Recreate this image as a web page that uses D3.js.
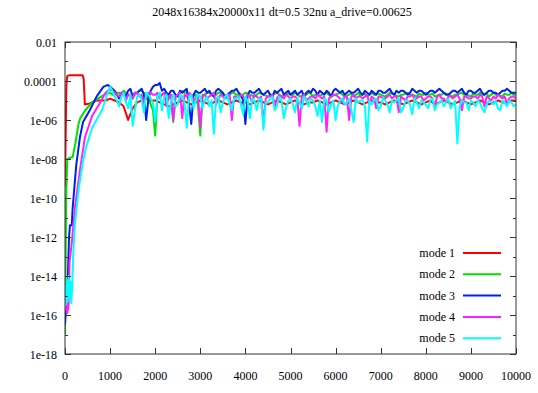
<!DOCTYPE html>
<html>
<head>
<meta charset="utf-8">
<script src="https://cdn.jsdelivr.net/npm/d3@7"></script>
<style>
body { margin: 0; background: #fff; }
svg text { font-family: "Liberation Serif", "DejaVu Serif", serif; fill: #000; }
</style>
</head>
<body>
<div id="chart"></div>
<script>
// log10 of each mode's amplitude

// start-up phase, [step, log10 value]
const mode1Early = [[0,-9.4],[30,-4.2],[50,-3.75],[100,-3.7],[390,-3.7],[415,-3.9],[440,-5.2],[550,-5.15],[700,-5.0],[900,-5.0]];
const mode2Early = [[0,-17],[25,-10],[50,-8.0],[170,-7.9],[230,-7.2],[300,-6.2],[340,-5.9],[450,-5.5],[600,-5.1],[800,-4.8],[950,-4.6]];
const mode3Early = [[0,-16.5],[60,-14.3],[90,-12],[110,-11.4],[150,-11.4],[170,-10.5],[250,-8.3],[330,-6.9],[400,-6.1],[550,-5.5],[700,-4.8],[850,-4.3],[950,-4.2]];
const mode4Early = [[0,-15.8],[30,-15.3],[50,-15.9],[80,-15.5],[100,-13.3],[150,-12.3],[220,-10.5],[330,-8.6],[440,-6.9],[600,-5.8],[780,-5.1],[900,-4.6]];
const mode5Early = [[0,-14.5],[20,-15.5],[40,-14.2],[60,-15.3],[80,-14.0],[100,-15.1],[120,-14.3],[140,-15.4],[160,-14.5],[180,-13],[220,-11.3],[300,-9.6],[400,-8.1],[480,-7.3],[600,-6.4],[820,-5.5],[950,-4.6]];

// saturated phase, one value every 100 steps from 1000 to 10000
const mode1Late = [
  -4.9,-5.0,-5.1,-5.3,-6.0,-5.4,-5.1,-5.0,-4.9,-5.0,
  -5.0,-5.1,-5.2,-5.3,-5.2,-5.1,-5.0,-5.1,-5.2,-5.1,
  -5.0,-5.1,-5.2,-5.1,-5.0,-5.1,-5.2,-5.1,-5.0,-5.1,
  -5.1,-5.2,-5.1,-5.0,-5.1,-5.2,-5.1,-5.0,-5.1,-5.2,
  -5.1,-5.0,-5.1,-5.2,-5.1,-5.1,-5.0,-5.1,-5.2,-5.1,
  -5.0,-5.1,-5.2,-5.1,-5.0,-5.1,-5.2,-5.1,-5.0,-5.1,
  -5.1,-5.2,-5.1,-5.0,-5.1,-5.2,-5.1,-5.0,-5.1,-5.2,
  -5.1,-5.0,-5.2,-5.1,-5.0,-5.1,-5.2,-5.1,-5.0,-5.1,
  -5.2,-5.1,-5.0,-5.1,-5.2,-5.1,-5.0,-5.1,-5.1,-5.0,
  -5.0];
const mode2Late = [
  -4.6,-4.7,-4.6,-4.5,-4.7,-4.9,-4.6,-4.5,-4.7,-5.2,
  -6.8,-4.8,-4.6,-4.7,-6.1,-4.7,-4.5,-4.6,-4.8,-4.7,
  -6.8,-4.7,-4.6,-4.8,-4.6,-4.7,-4.9,-4.6,-4.7,-4.8,
  -4.6,-4.7,-4.8,-4.6,-4.7,-4.8,-4.7,-4.6,-4.8,-4.7,
  -4.7,-4.6,-4.8,-4.7,-4.6,-4.8,-4.7,-4.7,-4.6,-4.8,
  -4.7,-4.6,-4.8,-4.7,-4.8,-4.6,-4.7,-4.8,-4.6,-4.7,
  -4.7,-4.8,-4.6,-4.7,-4.8,-4.7,-4.6,-4.7,-4.8,-4.7,
  -4.6,-4.7,-4.8,-4.7,-4.6,-4.7,-4.8,-4.7,-4.6,-4.7,
  -4.8,-4.7,-4.6,-4.7,-4.8,-4.6,-4.7,-4.8,-4.7,-4.6,
  -4.7];
const mode3Late = [
  -4.3,-4.5,-4.9,-4.6,-4.5,-4.8,-4.6,-4.4,-6.0,-4.5,
  -4.2,-4.1,-4.4,-4.7,-4.5,-4.8,-4.6,-4.4,-6.2,-4.5,
  -4.6,-4.4,-4.5,-4.8,-4.4,-4.6,-4.7,-4.5,-4.4,-4.7,
  -6.2,-4.5,-4.6,-4.4,-4.7,-4.5,-4.8,-4.6,-4.4,-4.6,
  -4.7,-4.5,-4.6,-4.8,-4.5,-4.4,-4.7,-4.6,-4.5,-4.8,
  -4.4,-4.6,-4.7,-4.5,-4.6,-4.4,-4.7,-4.6,-4.5,-4.7,
  -4.5,-4.6,-4.4,-4.7,-4.6,-4.5,-4.7,-4.4,-4.6,-4.5,
  -4.7,-4.5,-4.6,-4.4,-4.6,-4.7,-4.5,-4.6,-4.4,-4.7,
  -4.5,-4.6,-4.4,-4.7,-4.5,-4.6,-4.7,-4.5,-4.4,-4.6,
  -4.6];
const mode4Late = [
  -4.4,-4.6,-4.8,-4.6,-4.7,-4.9,-4.6,-4.7,-4.8,-4.6,
  -4.7,-4.9,-4.6,-4.8,-6.0,-4.7,-5.9,-4.8,-4.7,-4.9,
  -6.4,-4.7,-4.8,-4.6,-4.9,-4.8,-4.7,-6.0,-4.8,-4.7,
  -4.9,-4.8,-4.7,-4.9,-6.2,-4.8,-4.7,-4.9,-4.8,-4.7,
  -4.9,-4.8,-6.3,-4.7,-4.9,-4.8,-4.7,-4.9,-6.6,-4.8,
  -4.7,-4.9,-4.8,-6.0,-4.7,-4.8,-4.9,-4.7,-4.8,-5.4,
  -4.8,-4.9,-4.7,-4.8,-5.6,-4.9,-4.8,-4.7,-4.9,-4.8,
  -4.9,-4.8,-5.3,-4.7,-4.9,-4.8,-4.9,-4.7,-5.5,-4.8,
  -4.9,-4.8,-4.7,-5.3,-4.9,-4.8,-4.7,-4.9,-5.2,-4.8,
  -4.9];
const mode5Late = [
  -4.3,-4.8,-5.3,-4.6,-5.4,-6.3,-4.8,-5.0,-4.6,-4.9,
  -6.1,-4.6,-4.8,-5.9,-4.7,-5.2,-4.8,-6.4,-4.7,-5.0,
  -4.8,-5.0,-5.3,-6.7,-4.8,-5.1,-4.7,-5.5,-4.9,-5.2,
  -4.8,-5.9,-5.0,-4.9,-6.5,-5.1,-4.8,-5.3,-5.0,-5.4,
  -4.9,-5.6,-5.1,-4.8,-5.3,-5.0,-5.8,-6.1,-5.0,-5.2,
  -6.0,-5.0,-5.2,-4.9,-6.1,-5.1,-5.0,-7.1,-5.2,-4.9,
  -5.3,-5.0,-5.6,-5.1,-4.9,-5.4,-5.0,-5.7,-5.1,-5.0,
  -5.2,-5.0,-5.5,-5.1,-5.3,-4.9,-5.2,-7.2,-5.0,-5.1,
  -5.0,-5.3,-5.1,-5.6,-5.0,-5.2,-5.4,-5.0,-5.3,-5.1,
  -5.2];

// in-between values, at 1050, 1150, ... 9950
const mode2Mid = [
  -4.7,-4.6,-4.7,-4.6,-4.8,-4.7,-4.5,-4.6,-4.9,-5.5,
  -4.7,-4.7,-4.7,-5.0,-4.8,-4.6,-4.6,-4.7,-4.7,-5.3,
  -4.7,-4.6,-4.7,-4.7,-4.6,-4.8,-4.7,-4.6,-4.7,-4.7,
  -4.65,-4.75,-4.7,-4.65,-4.75,-4.7,-4.65,-4.7,-4.75,-4.65,
  -4.7,-4.65,-4.75,-4.7,-4.65,-4.7,-4.75,-4.65,-4.7,-4.75,
  -4.65,-4.7,-4.75,-4.65,-4.7,-4.75,-4.65,-4.7,-4.7,-4.65,
  -4.75,-4.7,-4.65,-4.75,-4.7,-4.65,-4.7,-4.75,-4.65,-4.7,
  -4.7,-4.65,-4.75,-4.7,-4.65,-4.75,-4.7,-4.65,-4.7,-4.75,
  -4.65,-4.7,-4.75,-4.65,-4.7,-4.7,-4.75,-4.65,-4.7,-4.7];
const mode3Mid = [
  -4.4,-4.7,-4.6,-4.8,-4.4,-4.6,-4.5,-4.7,-4.9,-4.3,
  -4.2,-4.5,-4.6,-4.5,-4.7,-4.5,-4.5,-5.2,-4.7,-4.6,
  -4.5,-4.6,-4.7,-4.5,-4.5,-4.8,-4.6,-4.5,-4.6,-5.0,
  -4.7,-4.6,-4.5,-4.6,-4.6,-4.7,-4.5,-4.5,-4.7,-4.5,
  -4.6,-4.7,-4.5,-4.6,-4.6,-4.5,-4.5,-4.7,-4.6,-4.5,
  -4.5,-4.5,-4.6,-4.6,-4.5,-4.6,-4.5,-4.7,-4.6,-4.5,
  -4.6,-4.5,-4.6,-4.5,-4.5,-4.6,-4.6,-4.5,-4.5,-4.6,
  -4.6,-4.5,-4.5,-4.5,-4.7,-4.6,-4.5,-4.5,-4.6,-4.5,
  -4.6,-4.5,-4.6,-4.6,-4.5,-4.6,-4.6,-4.5,-4.5,-4.6];
const mode4Mid = [
  -4.5,-4.7,-4.6,-5.0,-4.7,-4.6,-4.8,-5.2,-4.6,-4.7,
  -4.6,-4.7,-5.3,-4.7,-4.8,-4.6,-4.7,-4.6,-5.0,-4.8,
  -4.8,-4.9,-4.7,-5.2,-4.7,-4.9,-4.7,-4.8,-4.9,-4.8,
  -4.7,-5.1,-4.8,-4.8,-4.9,-4.8,-5.3,-4.7,-4.9,-4.8,
  -4.8,-4.9,-4.8,-5.0,-4.8,-4.9,-4.8,-4.8,-4.9,-4.7,
  -4.8,-5.1,-4.8,-4.8,-4.9,-4.8,-4.8,-5.2,-4.9,-4.8,
  -4.9,-4.8,-4.9,-4.8,-4.8,-5.0,-4.8,-4.9,-4.8,-5.0,
  -4.8,-4.9,-4.8,-4.9,-5.1,-4.8,-4.8,-4.9,-4.8,-4.9,
  -4.8,-4.9,-4.8,-4.8,-5.0,-4.9,-4.8,-4.8,-4.9,-4.8];
const mode5Mid = [
  -4.5,-5.0,-4.8,-5.1,-4.7,-5.5,-4.7,-5.6,-4.7,-5.1,
  -4.8,-5.5,-4.7,-5.0,-5.3,-4.7,-5.1,-4.8,-5.4,-4.7,
  -5.4,-4.8,-5.0,-4.9,-5.6,-4.8,-5.2,-4.9,-4.8,-5.7,
  -5.0,-4.9,-5.5,-4.9,-5.1,-4.9,-5.5,-4.8,-5.9,-5.0,
  -5.2,-4.9,-5.4,-5.0,-4.9,-5.3,-5.0,-4.9,-5.6,-5.0,
  -5.3,-4.9,-5.1,-5.5,-4.9,-5.0,-5.3,-5.0,-5.0,-5.5,
  -4.9,-5.2,-5.0,-5.0,-5.6,-5.0,-5.2,-4.9,-5.4,-5.1,
  -5.4,-4.9,-5.2,-5.0,-5.1,-5.4,-5.0,-5.3,-5.1,-5.5,
  -5.1,-5.0,-5.4,-5.2,-5.1,-5.0,-5.5,-5.1,-5.0,-5.3];

const modeNames = ["mode 1", "mode 2", "mode 3", "mode 4", "mode 5"];
const modeColors = ["#ff0000", "#00e000", "#0020e8", "#ff20ff", "#00ffff"];
const xTicks = [0, 1000, 2000, 3000, 4000, 5000, 6000, 7000, 8000, 9000, 10000];
const yTickExps = [-2, -4, -6, -8, -10, -12, -14, -16, -18];
const yTickLabels = ["0.01", "0.0001", "1e-06", "1e-08", "1e-10", "1e-12", "1e-14", "1e-16", "1e-18"];
const yMinorExps = [-3, -5, -7, -9, -11, -13, -15, -17];
const title = "2048x16384x20000x11 dt=0.5 32nu a_drive=0.00625";

const W = 538, H = 393;
const plotLeft = 65, plotRight = 516, plotTop = 42, plotBottom = 354;

const lateSteps = d3.range(1000, 10001, 100);
const midSteps = d3.range(1050, 10000, 100);
function buildSeries(early, late, mid) {
  const pts = early.concat(late.map((v, i) => [lateSteps[i], v]));
  if (mid) mid.forEach((v, i) => pts.push([midSteps[i], v]));
  pts.sort((a, b) => a[0] - b[0]);
  return pts.map(([t, e]) => ({ t: t, v: Math.pow(10, e) }));
}
const series = [
  buildSeries(mode1Early, mode1Late),
  buildSeries(mode2Early, mode2Late, mode2Mid),
  buildSeries(mode3Early, mode3Late, mode3Mid),
  buildSeries(mode4Early, mode4Late, mode4Mid),
  buildSeries(mode5Early, mode5Late, mode5Mid)
];

const svg = d3.select("#chart").append("svg")
  .attr("width", W).attr("height", H);

const x = d3.scaleLinear().domain([0, 10000]).range([plotLeft, plotRight]);
const y = d3.scaleLog().domain([1e-18, 1e-2]).range([plotBottom, plotTop]);

svg.append("text")
  .attr("x", 282).attr("y", 16)
  .attr("text-anchor", "middle")
  .style("font-size", "12px")
  .text(title);

const line = d3.line()
  .x(d => x(d.t))
  .y(d => y(d.v));

const g = svg.append("g");
g.append("clipPath").attr("id", "clip")
  .append("rect").attr("x", plotLeft).attr("y", plotTop)
  .attr("width", plotRight - plotLeft).attr("height", plotBottom - plotTop);

g.selectAll(".series")
  .data(series)
  .enter()
  .append("path")
  .attr("class", "series")
  .attr("clip-path", "url(#clip)")
  .attr("d", line)
  .attr("fill", "none")
  .attr("stroke", (d, i) => modeColors[i])
  .attr("stroke-width", 2)
  .attr("stroke-linejoin", "round");

// frame and ticks
const axisColor = "#333";
svg.append("rect")
  .attr("x", plotLeft).attr("y", plotTop)
  .attr("width", plotRight - plotLeft).attr("height", plotBottom - plotTop)
  .attr("fill", "none").attr("stroke", axisColor).attr("stroke-width", 1);

xTicks.forEach(t => {
  const px = Math.round(x(t)) + 0.5;
  svg.append("line").attr("x1", px).attr("x2", px).attr("y1", plotBottom).attr("y2", plotBottom - 6).attr("stroke", axisColor);
  svg.append("line").attr("x1", px).attr("x2", px).attr("y1", plotTop).attr("y2", plotTop + 6).attr("stroke", axisColor);
  svg.append("text")
    .attr("x", x(t)).attr("y", 380)
    .attr("text-anchor", "middle")
    .style("font-size", "12px")
    .text(t);
});

yTickExps.forEach((e, i) => {
  const py = Math.round(y(Math.pow(10, e))) + 0.5;
  svg.append("line").attr("x1", plotLeft).attr("x2", plotLeft + 6).attr("y1", py).attr("y2", py).attr("stroke", axisColor);
  svg.append("line").attr("x1", plotRight).attr("x2", plotRight - 6).attr("y1", py).attr("y2", py).attr("stroke", axisColor);
  svg.append("text")
    .attr("x", 57).attr("y", py + 4)
    .attr("text-anchor", "end")
    .style("font-size", "12px")
    .text(yTickLabels[i]);
});

yMinorExps.forEach(e => {
  const py = Math.round(y(Math.pow(10, e))) + 0.5;
  svg.append("line").attr("x1", plotLeft).attr("x2", plotLeft + 3).attr("y1", py).attr("y2", py).attr("stroke", axisColor);
  svg.append("line").attr("x1", plotRight).attr("x2", plotRight - 3).attr("y1", py).attr("y2", py).attr("stroke", axisColor);
});

// legend
const legend = svg.append("g");
modeNames.forEach((name, i) => {
  const ly = 253 + i * 21.3;
  legend.append("text")
    .attr("x", 455).attr("y", ly + 4)
    .attr("text-anchor", "end")
    .style("font-size", "12px")
    .text(name);
  legend.append("line")
    .attr("x1", 463).attr("x2", 501)
    .attr("y1", ly).attr("y2", ly)
    .attr("stroke", modeColors[i]).attr("stroke-width", 2);
});
</script>
</body>
</html>
